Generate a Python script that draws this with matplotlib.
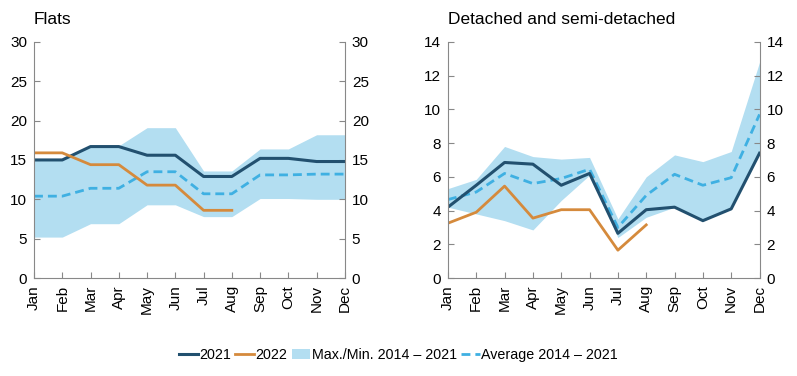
import numpy as np
import matplotlib.pyplot as plt

plt.rcParams['font.family'] = ['Liberation Sans', 'DejaVu Sans']

months = ['Jan', 'Feb', 'Mar', 'Apr', 'May', 'Jun', 'Jul', 'Aug', 'Sep', 'Oct', 'Nov', 'Dec']

# Flats
flats_2021 = [15.0, 15.0, 16.7, 16.7, 15.6, 15.6, 12.9, 12.9, 15.2, 15.2, 14.8, 14.8]
flats_2022 = [15.9, 15.9, 14.4, 14.4, 11.8, 11.8, 8.6, 8.6]
flats_avg = [10.4, 10.4, 11.4, 11.4, 13.5, 13.5, 10.7, 10.7, 13.1, 13.1, 13.2, 13.2]
flats_max = [15.1, 15.1, 16.8, 16.8, 19.1, 19.1, 13.6, 13.6, 16.4, 16.4, 18.2, 18.2]
flats_min = [5.2, 5.2, 6.9, 6.9, 9.3, 9.3, 7.8, 7.8, 10.1, 10.1, 10.0, 10.0]

# Detached and semi-detached
det_2021 = [4.2, 5.5, 6.85, 6.75, 5.5, 6.2, 2.65, 4.05, 4.2, 3.4, 4.1, 7.4]
det_2022 = [3.25, 3.9, 5.45, 3.55, 4.05, 4.05, 1.65, 3.15]
det_avg = [4.65, 5.1, 6.2, 5.6, 5.9, 6.45, 3.0, 4.9, 6.15, 5.5, 5.95, 9.7]
det_max = [5.3, 5.85, 7.8, 7.2, 7.05, 7.15, 3.5, 6.0, 7.3, 6.9, 7.5, 12.8]
det_min = [4.2, 3.8, 3.4, 2.85, 4.6, 6.1, 2.4, 3.6, 4.2, 3.4, 4.1, 7.4]

c2021 = '#22506f'
c2022 = '#d58a3c'
cband = '#b3def1'
cavg = '#3fb0e2'

fig = plt.figure(figsize=(7.97, 3.76), dpi=100)
ax1 = fig.add_axes([0.0427, 0.2606, 0.390, 0.628])
ax2 = fig.add_axes([0.562, 0.2606, 0.391, 0.628])

panels = [
    (ax1, 'Flats', flats_2021, flats_2022, flats_avg, flats_max, flats_min, 30, 5),
    (ax2, 'Detached and semi-detached', det_2021, det_2022, det_avg, det_max, det_min, 14, 2),
]

x = np.arange(len(months))
for ax, title, y21, y22, avg, mx, mn, top, step in panels:
    ax.fill_between(x, mn, mx, color=cband, lw=0, label='Max./Min. 2014 – 2021')
    ax.plot(x, avg, color=cavg, lw=2, dashes=(3.2, 1.8), label='Average 2014 – 2021')
    ax.plot(x, y21, color=c2021, lw=2.2, label='2021')
    ax.plot(x[:len(y22)], y22, color=c2022, lw=2, label='2022')
    ax.set_xlim(0, 11)
    ax.set_ylim(0, top)
    ax.set_yticks(np.arange(0, top + 0.1, step))
    ax.set_xticks(x)
    ax.set_xticklabels(months, rotation=90)
    ax.tick_params(direction='in', length=4, color='#888888', labelsize=11,
                   right=True, labelright=True, pad=5)
    for s in ax.spines.values():
        s.set_color('#888888')
    ax.spines['top'].set_visible(False)
    ax.set_title(title, loc='left', fontsize=12.5, pad=13)

handles, labels = ax1.get_legend_handles_labels()
order = [labels.index(l) for l in ['2021', '2022', 'Max./Min. 2014 – 2021', 'Average 2014 – 2021']]
fig.legend([handles[i] for i in order], [labels[i] for i in order],
           loc='center', bbox_to_anchor=(0.5, 0.055), ncol=4, frameon=False,
           fontsize=10.3, handlelength=1.3, handletextpad=0.1, columnspacing=0.3)

fig.savefig('out.png', dpi=100)
